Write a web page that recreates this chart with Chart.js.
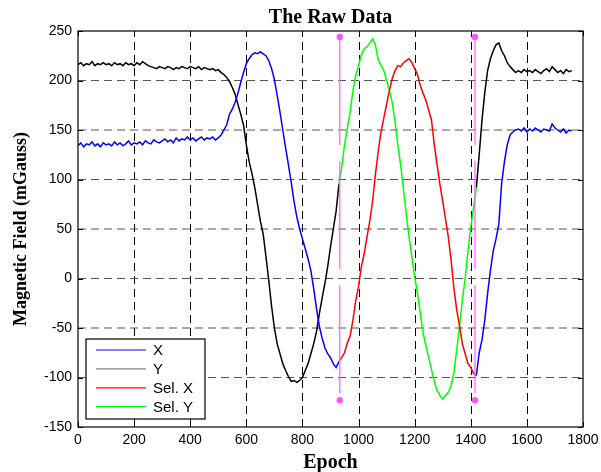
<!DOCTYPE html>
<html>
<head>
<meta charset="utf-8">
<script src="https://cdn.jsdelivr.net/npm/chart.js@4/dist/chart.umd.min.js"></script>
<style>
  html, body { margin: 0; padding: 0; background: #fff; }
  canvas { display: block; }
</style>
</head>
<body>
<canvas id="raw" width="601" height="472"></canvas>
<script>
// ===== data (one sample every 10 epochs) =====
const epochStep = 10;

// X field, epoch 0 .. 1760
const xField = [
  134, 137, 133, 136, 135, 138, 134, 136, 133, 137,   // 0-90
  135, 136, 134, 138, 135, 137, 134, 136, 139, 135,   // 100-190
  137, 136, 138, 135, 139, 137, 136, 140, 138, 137,   // 200-290
  139, 141, 138, 140, 137, 142, 139, 141, 140, 143,   // 300-390
  140, 142, 139, 141, 143, 140, 142, 141, 143, 140,   // 400-490
  142, 145, 150, 155, 166, 171, 178, 187, 198, 208,   // 500-590
  217, 222, 226, 228, 227, 229, 227, 225, 220, 212,   // 600-690
  201, 185, 168, 150, 132, 115, 97, 78, 62, 50,       // 700-790
  40, 30, 20, 8, -10, -30, -48, -60, -70, -76,        // 800-890
  -80, -86, -90, -84, -80, -75, -65, -58, -42, -22,   // 900-990
  -8, 12, 25, 42, 58, 78, 105, 128, 148, 162,         // 1000-1090
  176, 190, 202, 210, 215, 214, 218, 220, 222, 218,   // 1100-1190
  212, 206, 195, 187, 180, 170, 160, 135, 115, 95,    // 1200-1290
  78, 60, 42, 18, -10, -32, -48, -66, -76, -86,       // 1300-1390
  -90, -96, -98, -75, -62, -42, -15, 8, 28, 40,       // 1400-1490
  55, 96, 118, 135, 145, 148, 150, 151, 149, 152,     // 1500-1590
  148, 151, 149, 152, 150, 148, 151, 150, 149, 156,   // 1600-1690
  152, 150, 148, 151, 147, 150, 149                   // 1700-1760
];

// Y field, epoch 0 .. 1760
const yField = [
  216, 218, 215, 217, 216, 219, 215, 217, 216, 218,   // 0-90
  216, 217, 215, 218, 216, 217, 215, 218, 216, 217,   // 100-190
  215, 218, 216, 219, 217, 215, 214, 213, 212, 214,   // 200-290
  213, 212, 214, 213, 211, 213, 212, 214, 213, 212,   // 300-390
  214, 213, 212, 214, 211, 213, 212, 211, 212, 210,   // 400-490
  211, 208, 206, 203, 199, 193, 186, 176, 166, 155,   // 500-590
  135, 118, 106, 92, 75, 58, 45, 22, -2, -28,         // 600-690
  -50, -66, -76, -86, -93, -99, -104, -103, -105, -103, // 700-790
  -100, -93, -86, -76, -66, -54, -36, -20, -5, 12,    // 800-890
  32, 50, 68, 95, 112, 135, 152, 168, 190, 205,       // 900-990
  215, 226, 232, 234, 238, 242, 236, 221, 215, 210,   // 1000-1090
  200, 190, 178, 158, 135, 115, 90, 65, 42, 22,       // 1100-1190
  2, -15, -35, -55, -68, -80, -92, -104, -113, -118,  // 1200-1290
  -122, -118, -115, -108, -95, -72, -48, -22, 0, 28,  // 1300-1390
  52, 72, 92, 125, 160, 188, 210, 222, 230, 236,      // 1400-1490
  238, 230, 225, 218, 214, 211, 208, 210, 208, 211,   // 1500-1590
  209, 210, 208, 211, 209, 207, 210, 212, 209, 214,   // 1600-1690
  211, 208, 210, 207, 211, 209, 210                   // 1700-1760
];

// selected window
const selStart = 930;
const selEnd = 1420;

// window markers (epoch, top, bottom)
const markerEpochs = [933, 1415];
const markerTop = 244;
const markerBottom = -123;

const xTicks = [0, 200, 400, 600, 800, 1000, 1200, 1400, 1600, 1800];
const yTicks = [-150, -100, -50, 0, 50, 100, 150, 200, 250];

const legendItems = [
  { label: 'X',      color: '#0000ff' },
  { label: 'Y',      color: '#808080' },
  { label: 'Sel. X', color: '#ff0000' },
  { label: 'Sel. Y', color: '#00ff00' }
];

// ===== build datasets =====
function pick(values, inside) {
  return values.map((v, i) => {
    const e = i * epochStep;
    const inSel = e >= selStart && e <= selEnd;
    const edge = e === selStart || e === selEnd;
    return { x: e, y: (inside ? inSel : (!inSel || edge)) ? v : null };
  });
}

function line(data, color) {
  return {
    data: data,
    borderColor: color,
    borderWidth: 1.5,
    pointRadius: 0,
    spanGaps: false,
    tension: 0,
    fill: false
  };
}

// grid, box, inward ticks, labels, markers, legend
const matlabFrame = {
  id: 'matlabFrame',
  beforeDraw(chart) {
    const ctx = chart.ctx;
    ctx.save();
    ctx.fillStyle = '#fff';
    ctx.fillRect(0, 0, chart.width, chart.height);
    ctx.restore();
  },
  beforeDatasetsDraw(chart) {
    const { ctx, chartArea: a, scales: { x, y } } = chart;
    ctx.save();
    ctx.lineWidth = 1;
    ctx.setLineDash([8, 5]);
    ctx.strokeStyle = '#000';
    xTicks.slice(1, -1).forEach(t => {
      const px = Math.round(x.getPixelForValue(t)) + 0.5;
      ctx.beginPath(); ctx.moveTo(px, a.bottom); ctx.lineTo(px, a.top); ctx.stroke();
    });
    ctx.strokeStyle = '#555';
    yTicks.slice(1, -1).forEach(t => {
      const py = y.getPixelForValue(t);
      ctx.beginPath(); ctx.moveTo(a.left, py); ctx.lineTo(a.right, py); ctx.stroke();
    });
    ctx.restore();
  },
  afterDatasetsDraw(chart) {
    const { ctx, chartArea: a, scales: { x, y } } = chart;
    ctx.save();

    // selection markers
    markerEpochs.forEach(e => {
      const px = x.getPixelForValue(e);
      const t = y.getPixelForValue(markerTop), b = y.getPixelForValue(markerBottom);
      ctx.strokeStyle = '#ff66ff';
      ctx.lineWidth = 1.3;
      ctx.setLineDash([108, 16]);
      ctx.beginPath(); ctx.moveTo(px, t); ctx.lineTo(px, b); ctx.stroke();
      ctx.setLineDash([]);
      ctx.fillStyle = '#ff55ff';
      [t, b].forEach(py => { ctx.beginPath(); ctx.arc(px, py, 3.2, 0, Math.PI * 2); ctx.fill(); });
    });

    // box + inward ticks
    ctx.strokeStyle = '#000';
    ctx.lineWidth = 1.2;
    ctx.setLineDash([]);
    ctx.strokeRect(a.left, a.top, a.right - a.left, a.bottom - a.top);
    ctx.lineWidth = 1;
    xTicks.forEach(t => {
      const px = Math.round(x.getPixelForValue(t)) + 0.5;
      ctx.beginPath();
      ctx.moveTo(px, a.bottom); ctx.lineTo(px, a.bottom - 5);
      ctx.moveTo(px, a.top); ctx.lineTo(px, a.top + 5);
      ctx.stroke();
    });
    yTicks.forEach(t => {
      const py = Math.round(y.getPixelForValue(t)) + 0.5;
      ctx.beginPath();
      ctx.moveTo(a.left, py); ctx.lineTo(a.left + 5, py);
      ctx.moveTo(a.right, py); ctx.lineTo(a.right - 5, py);
      ctx.stroke();
    });

    // legend
    const lx = 86, ly = 339, lw = 119, lh = 80;
    ctx.fillStyle = '#fff';
    ctx.fillRect(lx, ly, lw, lh);
    ctx.lineWidth = 1.2;
    ctx.strokeRect(lx, ly, lw, lh);
    ctx.font = '15px "Liberation Sans", Arial, sans-serif';
    ctx.textBaseline = 'middle';
    ctx.textAlign = 'left';
    legendItems.forEach((it, i) => {
      const ry = 350 + i * 18.9;
      ctx.strokeStyle = it.color;
      ctx.lineWidth = 1.2;
      ctx.beginPath(); ctx.moveTo(96, ry); ctx.lineTo(146, ry); ctx.stroke();
      ctx.fillStyle = '#000';
      ctx.fillText(it.label, 153, ry + 1);
    });

    // titles
    const cx = (a.left + a.right) / 2;
    ctx.fillStyle = '#000';
    ctx.textAlign = 'center';
    ctx.textBaseline = 'alphabetic';
    ctx.font = 'bold 20px "Liberation Serif", "Times New Roman", serif';
    ctx.fillText('The Raw Data', cx, 23);
    ctx.fillText('Epoch', cx, 468);
    ctx.translate(26, (a.top + a.bottom) / 2);
    ctx.rotate(-Math.PI / 2);
    ctx.font = 'bold 18px "Liberation Serif", "Times New Roman", serif';
    ctx.fillText('Magnetic Field (mGauss)', 0, 0);
    ctx.restore();
  }
};

const tickFont = { family: '"Liberation Sans", Arial, sans-serif', size: 14 };
const plainTick = v => String(v);

new Chart(document.getElementById('raw'), {
  type: 'line',
  data: {
    datasets: [
      line(pick(xField, false), '#0000ff'),
      line(pick(yField, false), '#000000'),
      line(pick(xField, true),  '#ff0000'),
      line(pick(yField, true),  '#00ff00')
    ]
  },
  options: {
    responsive: false,
    animation: false,
    events: [],
    layout: { padding: { top: 31, right: 18, left: 0, bottom: 0 } },
    plugins: { legend: { display: false }, title: { display: false }, tooltip: { enabled: false } },
    scales: {
      x: {
        type: 'linear', min: 0, max: 1800,
        afterBuildTicks: s => { s.ticks = xTicks.map(v => ({ value: v })); },
        ticks: { font: tickFont, color: '#000', padding: 5, maxRotation: 0, autoSkip: false, callback: plainTick },
        grid: { display: false, drawTicks: false },
        border: { display: false },
        afterFit: s => { s.height = 45; s.paddingLeft = 0; s.paddingRight = 0; }
      },
      y: {
        type: 'linear', min: -150, max: 250,
        afterBuildTicks: s => { s.ticks = yTicks.map(v => ({ value: v })); },
        ticks: { font: tickFont, color: '#000', padding: 6, callback: plainTick },
        grid: { display: false, drawTicks: false },
        border: { display: false },
        afterFit: s => { s.width = 78; s.paddingTop = 0; s.paddingBottom = 0; }
      }
    }
  },
  plugins: [matlabFrame]
});
</script>
</body>
</html>
